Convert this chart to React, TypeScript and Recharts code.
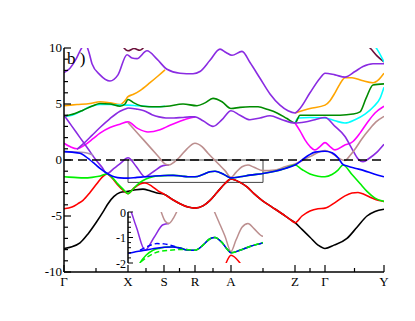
import React from 'react';
import { LineChart, Line, XAxis, YAxis, ReferenceLine, ReferenceArea, CartesianGrid } from 'recharts';

type P = [number, number];

// k-path positions of high-symmetry points and labels
const kLabels: Record<number, string> = { 0: 'Γ', 64: 'X', 100: 'S', 131: 'R', 167: 'A', 231: 'Z', 261: 'Γ', 320: 'Y' };
const kTicks = [0, 32, 64, 82, 100, 115.5, 131, 149, 167, 199, 231, 246, 261, 290.5, 320];
const eTicks = [-10, -9, -8, -7, -6, -5, -4, -3, -2, -1, 0, 1, 2, 3, 4, 5, 6, 7, 8, 9, 10];
const eLabels = [-10, -5, 0, 5, 10];
const insetKTicks = [64, 80.875, 97.75, 114.625, 131.5, 148.375, 165.25, 182.125, 199];
const insetKMajor = [64, 97.75, 131.5, 165.25, 199];
const insetETicks = [-2, -1.8, -1.6, -1.4, -1.2, -1, -0.8, -0.6, -0.4, -0.2, 0];
const insetELabels = [-2, -1, 0];

// bands: [k, energy(eV)]
const black: P[] = [[0,-7.9],[8,-7.75],[16,-7.4],[24,-6.6],[32,-5.6],[40,-4.5],[44,-3.9],[50,-3.25],[56,-2.9],[64,-2.8],[72,-2.65],[79,-2.6],[86,-2.75],[93,-2.95],[100,-3.05],[108,-3.5],[116,-3.9],[124,-4.2],[131,-4.3],[139,-4.1],[146,-3.6],[153,-2.9],[161,-2.1],[167,-1.7],[176,-2.0],[183,-2.4],[190,-3.0],[198,-3.6],[208,-4.2],[218,-4.8],[226,-5.3],[231,-5.6],[238,-6.2],[246,-6.9],[254,-7.6],[261,-7.9],[270,-7.6],[283,-7.0],[293,-6.0],[303,-5.0],[311,-4.6],[320,-4.4]];
const red: P[] = [[0,-4.35],[8,-4.2],[14,-3.9],[19,-3.6],[26,-2.9],[33,-2.1],[38,-1.55],[43,-1.25],[48,-1.6],[54,-2.25],[59,-2.7],[64,-3.0],[70,-2.5],[76,-2.15],[81,-2.05],[88,-2.35],[94,-2.75],[100,-3.05],[108,-3.5],[116,-3.9],[124,-4.2],[131,-4.3],[139,-4.1],[146,-3.6],[153,-2.9],[161,-2.1],[167,-1.7],[176,-2.0],[183,-2.4],[190,-3.0],[198,-3.6],[208,-4.2],[218,-4.8],[226,-5.3],[231,-5.6],[238,-5.0],[246,-4.55],[254,-4.35],[261,-4.3],[271,-3.8],[281,-3.2],[288,-2.95],[294,-2.9],[301,-3.1],[308,-3.4],[314,-3.6],[320,-3.7]];
const lime: P[] = [[0,-1.5],[10,-1.55],[20,-1.6],[28,-1.55],[35,-1.45],[43,-1.25],[48,-1.55],[54,-2.15],[59,-2.6],[64,-3.0],[70,-2.5],[76,-2.0],[82,-1.7],[89,-1.5],[96,-1.42],[104,-1.37],[110,-1.37],[118,-1.43],[124,-1.5],[131,-1.5],[139,-1.3],[146,-1.05],[151,-1.0],[158,-1.2],[163,-1.45],[167,-1.6],[176,-1.5],[186,-1.35],[199,-1.2],[211,-1.0],[221,-0.75],[231,-0.45],[238,-0.85],[246,-1.25],[254,-1.45],[261,-1.5],[268,-1.3],[274,-0.9],[279,-0.45],[288,-1.3],[296,-2.1],[303,-2.8],[311,-3.4],[320,-3.7]];
const blue: P[] = [[0,0.75],[8,0.7],[16,0.6],[21,0.35],[26,0.0],[31,-0.37],[36,-0.74],[41,-1.07],[46,-1.34],[51,-1.52],[56,-1.6],[64,-1.62],[73,-1.55],[81,-1.5],[90,-1.43],[100,-1.38],[109,-1.37],[117,-1.43],[124,-1.5],[131,-1.5],[139,-1.3],[146,-1.05],[151,-1.0],[158,-1.2],[163,-1.45],[167,-1.6],[176,-1.5],[186,-1.35],[199,-1.2],[211,-1.0],[221,-0.75],[231,-0.45],[238,0.0],[245,0.45],[251,0.7],[261,0.78],[268,0.65],[274,0.2],[279,-0.4],[284,-0.55],[292,-0.75],[300,-0.95],[310,-1.25],[320,-1.5]];
const blueDash: P[] = [[76,-1.5],[83,-1.36],[93,-1.24],[100,-1.25],[106,-1.3],[115,-1.4],[124,-1.48]];
const limeDash: P[] = [[77,-1.95],[82,-1.8],[90,-1.62],[98,-1.53],[106,-1.5],[118,-1.47],[131,-1.5],[139,-1.3],[146,-1.05],[151,-1.0],[158,-1.2],[163,-1.45],[167,-1.6],[176,-1.5],[186,-1.35],[199,-1.2]];
const mauve: P[] = [[0,0.75],[10,0.72],[20,0.67],[29,0.45]];
const violet1: P[] = [[0,4.0],[8,3.0],[16,2.0],[24,1.0],[32,0.0],[38,-0.65],[43,-1.2],[50,-0.75],[57,-0.25],[64,0.2],[72,-0.55],[81,-1.5],[90,-1.0],[99,-0.5],[105,-0.45]];
const violet2: P[] = [[13,0.95],[20,1.5],[28,2.2],[36,2.9],[46,3.7],[56,4.35],[64,4.65]];
const violet3: P[] = [[64,4.65],[72,4.55],[80,4.4],[88,4.05],[95,3.85],[102,3.75],[110,3.75],[118,3.8],[126,3.85],[131,3.85],[139,3.5],[149,3.0],[158,3.6],[167,4.4],[176,4.0],[186,3.6],[196,3.75],[206,3.95],[218,3.6],[231,3.3],[241,3.4],[251,3.6],[261,3.8],[271,3.0],[281,2.1],[288,1.0],[294,0.1],[299,-0.15],[306,0.2],[313,0.7],[320,1.4]];
const violetTop: P[] = [[0,7.8],[6,8.2],[12,9.0],[17,9.9],[21,10.4],[25,9.6],[28,8.6],[36,7.6],[46,7.05],[54,7.6],[63,9.4],[68,9.1],[73,9.05],[83,9.75],[93,9.0],[103,8.1],[116,7.75],[129,7.7],[136,7.9],[146,8.9],[156,9.9],[162,9.6],[168,9.35],[178,9.7],[186,8.7],[196,7.3],[206,5.9],[216,4.9],[224,4.4],[231,4.2],[236,4.6],[246,6.0],[256,7.3],[261,7.75],[271,7.6],[281,7.4],[291,7.9],[299,8.35],[309,8.6],[320,8.6]];
const magentaA: P[] = [[0,1.5],[6,1.2],[13,1.0],[21,1.35],[29,1.9],[36,2.4],[46,2.9],[56,3.2],[64,3.4],[74,2.8],[84,2.5],[96,2.7],[106,3.1],[116,3.45],[126,3.75],[131,3.85]];
const magentaB: P[] = [[231,3.3],[236,2.6],[241,1.8],[246,1.2],[251,0.9],[256,1.2],[261,1.55],[266,1.2],[271,0.9],[280,1.3],[289,1.65],[296,2.4],[303,3.3],[311,4.2],[320,4.8]];
const brown: P[] = [[64,3.35],[72,2.55],[80,1.75],[88,0.95],[95,0.25],[101,-0.35],[105,-0.45],[110,-0.2],[116,0.3],[123,1.0],[131,1.5],[138,1.2],[144,0.6],[150,0.05],[155,-0.4],[161,-0.95],[167,-1.55],[172,-1.1],[178,-0.6],[184,-0.45],[190,-0.65],[199,-0.95],[211,-0.9],[221,-0.6],[231,-0.35],[246,0.3],[261,0.85],[268,0.6],[275,0.15],[281,-0.05],[286,0.4],[292,1.1],[298,1.9],[305,2.7],[312,3.4],[320,3.9]];
const darkGreen: P[] = [[0,3.9],[11,4.15],[19,4.45],[29,4.85],[36,5.05],[46,5.0],[56,4.8],[61,5.0],[64,5.4],[70,5.1],[79,4.8],[91,4.75],[103,4.8],[119,5.0],[133,4.85],[141,5.1],[149,5.5],[158,5.2],[167,4.6],[176,4.7],[186,4.75],[194,4.75],[204,4.5],[213,4.2],[223,3.7],[231,3.3],[236,4.0],[246,4.0],[261,4.0],[276,4.0],[289,4.1],[296,4.3],[302,5.5],[309,6.7],[320,6.8]];
const cyanA: P[] = [[0,3.9],[8,4.0],[16,4.3],[26,4.75],[36,4.95],[46,4.95],[56,4.9],[64,4.9],[73,4.85],[81,4.8],[91,4.75],[101,4.8]];
const cyanB: P[] = [[231,3.3],[234,3.75],[246,3.8],[261,3.75],[271,3.5],[281,3.3],[291,3.6],[301,4.1],[310,4.8],[316,5.5],[320,6.5]];
const cyanTop: P[] = [[306,10.6],[313,9.9],[320,8.75]];
const orangeA: P[] = [[0,4.85],[13,4.95],[26,5.05],[36,5.2],[46,5.1],[56,4.95],[61,5.3],[64,5.65],[69,5.85],[76,6.2],[86,6.9],[94,7.5],[101,8.05]];
const orangeB: P[] = [[231,4.2],[246,4.6],[261,4.9],[266,5.3],[271,6.0],[276,6.8],[281,7.35],[288,7.35],[298,7.1],[309,6.9],[315,7.2],[320,7.75]];
const maroonTop: P[] = [[296,10.6],[306,10.0],[313,9.3],[320,8.75]];
const maroonX: P[] = [[56,10.5],[64,9.75],[70,9.95],[76,9.8],[83,10.5]];

const C = {
  black: '#000000', red: '#ff0000', lime: '#00f000', blue: '#0000ff', violet: '#8a2be2',
  magenta: '#ff00ff', brown: '#bc8f8f', cyan: '#00ffff', darkGreen: '#008b00', orange: '#ffa500',
  maroon: '#6b0f3a', mauve: '#a68cb8',
};

const FONT = '"Liberation Serif", "Times New Roman", serif';
const AX = { stroke: '#000', strokeWidth: 1.5 };
const mk = (a: P[]) => a.map(([k, e]) => ({ k, e }));

const mainSeries: { d: P[]; c: string }[] = [
  { d: maroonX, c: C.maroon }, { d: maroonTop, c: C.maroon }, { d: cyanTop, c: C.cyan },
  { d: orangeA, c: C.orange }, { d: orangeB, c: C.orange }, { d: violetTop, c: C.violet },
  { d: cyanA, c: C.cyan }, { d: cyanB, c: C.cyan }, { d: darkGreen, c: C.darkGreen },
  { d: magentaA, c: C.magenta }, { d: magentaB, c: C.magenta },
  { d: violet2, c: C.violet }, { d: violet3, c: C.violet },
  { d: violet1, c: C.violet }, { d: mauve, c: C.mauve }, { d: brown, c: C.brown },
  { d: black, c: C.black }, { d: red, c: C.red }, { d: lime, c: C.lime }, { d: blue, c: C.blue },
];

function BottomTick(p: any) {
  const v = p.payload.value;
  const lab = kLabels[v];
  const major = lab !== undefined;
  return (
    <g>
      <line x1={p.x} y1={p.y} x2={p.x} y2={p.y - (major ? 7 : 4)} stroke="#000" strokeWidth={1.2} />
      {lab ? <text x={p.x} y={p.y + 14} textAnchor="middle" fontSize={13} fontFamily={FONT} fill="#000">{lab}</text> : null}
    </g>
  );
}
function TopTick(p: any) {
  const major = kLabels[p.payload.value] !== undefined;
  return <line x1={p.x} y1={p.y} x2={p.x} y2={p.y + (major ? 7 : 4)} stroke="#000" strokeWidth={1.2} />;
}
function LeftTick(p: any) {
  const v = p.payload.value;
  const major = eLabels.includes(v);
  return (
    <g>
      <line x1={p.x} y1={p.y} x2={p.x + (major ? 7 : 4)} y2={p.y} stroke="#000" strokeWidth={1.2} />
      {major ? <text x={p.x - 2} y={p.y + 4} textAnchor="end" fontSize={13} fontFamily={FONT} fill="#000">{String(v)}</text> : null}
    </g>
  );
}
function RightTick(p: any) {
  const major = eLabels.includes(p.payload.value);
  return <line x1={p.x} y1={p.y} x2={p.x - (major ? 7 : 4)} y2={p.y} stroke="#000" strokeWidth={1.2} />;
}

function InBottomTick(p: any) {
  const major = insetKMajor.includes(p.payload.value);
  return <line x1={p.x} y1={p.y} x2={p.x} y2={p.y - (major ? 5 : 3)} stroke="#000" strokeWidth={1} />;
}
function InTopTick(p: any) {
  const major = insetKMajor.includes(p.payload.value);
  return <line x1={p.x} y1={p.y} x2={p.x} y2={p.y + (major ? 5 : 3)} stroke="#000" strokeWidth={1} />;
}
function InLeftTick(p: any) {
  const v = p.payload.value;
  const major = insetELabels.includes(v);
  return (
    <g>
      <line x1={p.x} y1={p.y} x2={p.x + (major ? 5 : 3)} y2={p.y} stroke="#000" strokeWidth={1} />
      {major ? <text x={p.x - 2} y={p.y + 4.5} textAnchor="end" fontSize={12} fontFamily={FONT} fill="#000">{String(v)}</text> : null}
    </g>
  );
}
function InRightTick(p: any) {
  const major = insetELabels.includes(p.payload.value);
  return <line x1={p.x} y1={p.y} x2={p.x - (major ? 5 : 3)} y2={p.y} stroke="#000" strokeWidth={1} />;
}

function MainChart() {
  return (
    <LineChart width={415} height={321} margin={{ top: 48, right: 31, bottom: 19, left: 34 }}>
      <XAxis dataKey="k" type="number" domain={[0, 320]} ticks={kTicks} interval={0} tickSize={0} tickMargin={0}
        tickLine={false} axisLine={AX} height={30} tick={BottomTick} allowDataOverflow />
      <XAxis xAxisId="top" orientation="top" dataKey="k" type="number" domain={[0, 320]} ticks={kTicks} interval={0}
        tickSize={0} tickMargin={0} tickLine={false} axisLine={AX} height={0} tick={TopTick} allowDataOverflow />
      <YAxis type="number" domain={[-10, 10]} ticks={eTicks} interval={0} tickSize={0} tickMargin={0}
        tickLine={false} axisLine={AX} width={30} tick={LeftTick} allowDataOverflow />
      <YAxis yAxisId="right" orientation="right" type="number" domain={[-10, 10]} ticks={eTicks} interval={0}
        tickSize={0} tickMargin={0} tickLine={false} axisLine={AX} width={0} tick={RightTick} allowDataOverflow />
      {mainSeries.map((s, i) => (
        <Line key={i} data={mk(s.d)} dataKey="e" type="monotone" stroke={s.c} strokeWidth={1.6}
          dot={false} activeDot={false} isAnimationActive={false} />
      ))}
      <ReferenceArea x1={64} x2={199} y1={-2} y2={0} fill="none" stroke="#444" strokeWidth={1} />
      <ReferenceLine y={0} stroke="#000" strokeWidth={1.5} strokeDasharray="9 5" />
    </LineChart>
  );
}

function Inset() {
  const lines: { d: P[]; c: string; dash?: string }[] = [
    { d: violet1, c: C.violet }, { d: brown, c: C.brown }, { d: red, c: C.red },
    { d: lime, c: C.lime }, { d: blue, c: C.blue }, { d: blueDash, c: C.blue, dash: '5 3' },
    { d: limeDash, c: C.lime, dash: '5 3' },
  ];
  return (
    <LineChart width={160} height={65} margin={{ top: 7, right: 7, bottom: 7, left: 0 }}>
      <CartesianGrid fill="#ffffff" horizontal={false} vertical={false} />
      <XAxis dataKey="k" type="number" domain={[64, 199]} ticks={insetKTicks} interval={0} tickSize={0} tickMargin={0}
        tickLine={false} axisLine={AX} height={0} tick={InBottomTick} allowDataOverflow />
      <XAxis xAxisId="top" orientation="top" dataKey="k" type="number" domain={[64, 199]} ticks={insetKTicks} interval={0}
        tickSize={0} tickMargin={0} tickLine={false} axisLine={AX} height={0} tick={InTopTick} allowDataOverflow />
      <YAxis type="number" domain={[-2, 0]} ticks={insetETicks} interval={0} tickSize={0} tickMargin={0}
        tickLine={false} axisLine={AX} width={18} tick={InLeftTick} allowDataOverflow />
      <YAxis yAxisId="right" orientation="right" type="number" domain={[-2, 0]} ticks={insetETicks} interval={0}
        tickSize={0} tickMargin={0} tickLine={false} axisLine={AX} width={0} tick={InRightTick} allowDataOverflow />
      {lines.map((s, i) => (
        <Line key={i} data={mk(s.d)} dataKey="e" type="monotone" stroke={s.c} strokeWidth={1.5}
          strokeDasharray={s.dash} dot={false} activeDot={false} isAnimationActive={false} />
      ))}
    </LineChart>
  );
}

export default function App() {
  return (
    <div style={{ position: 'absolute', left: 0, top: 0, width: 415, height: 321, background: '#fff' }}>
      <MainChart />
      <div style={{ position: 'absolute', left: 110, top: 205 }}>
        <Inset />
      </div>
      <div style={{ position: 'absolute', left: 67, top: 50, fontFamily: FONT, fontSize: 17, lineHeight: '17px', color: '#000', whiteSpace: 'pre' }}>
        b )
      </div>
    </div>
  );
}
